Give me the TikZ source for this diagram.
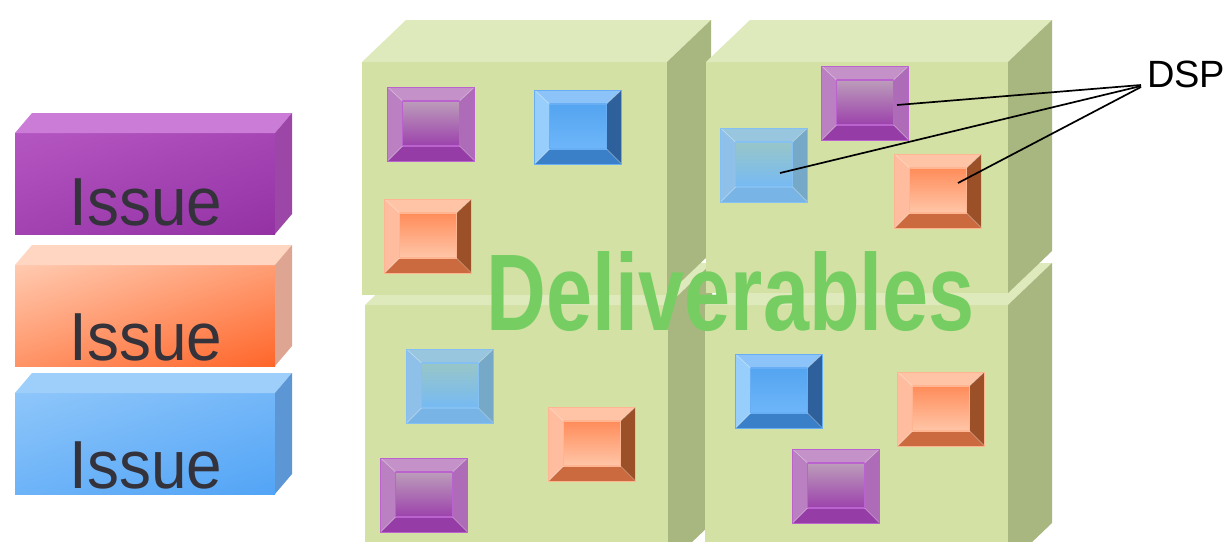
\documentclass[tikz,border=0pt]{standalone}
\usepackage{fontspec}
\setmainfont{Liberation Sans}
\usetikzlibrary{calc,shadings}

% cube faces and text
\definecolor{cubefront}{RGB}{211,225,165}
\definecolor{cubetop}{RGB}{222,233,188}
\definecolor{cubeside}{RGB}{168,183,128}
\definecolor{deliv}{RGB}{118,206,98}
\definecolor{issuetext}{RGB}{52,50,58}
% issue blocks
\definecolor{pF}{RGB}{180,86,194}
\definecolor{pG}{RGB}{148,50,164}
\definecolor{pTop}{RGB}{202,124,214}
\definecolor{pSide}{RGB}{156,70,168}
\definecolor{oF}{RGB}{255,202,176}
\definecolor{oG}{RGB}{255,102,42}
\definecolor{oTop}{RGB}{255,214,194}
\definecolor{oSide}{RGB}{222,166,146}
\definecolor{bF}{RGB}{142,198,250}
\definecolor{bG}{RGB}{82,164,246}
\definecolor{bTop}{RGB}{158,206,250}
\definecolor{bSide}{RGB}{92,150,212}
% bevelled squares
\definecolor{qpT}{RGB}{196,146,200}
\definecolor{qpL}{RGB}{186,128,194}
\definecolor{qpR}{RGB}{174,108,184}
\definecolor{qpB}{RGB}{150,60,166}
\definecolor{qpI}{RGB}{188,156,186}
\definecolor{qpJ}{RGB}{156,66,172}
\definecolor{qpE}{RGB}{186,98,206}
\definecolor{qbT}{RGB}{140,196,250}
\definecolor{qbL}{RGB}{152,206,252}
\definecolor{qbR}{RGB}{46,96,156}
\definecolor{qbB}{RGB}{58,128,200}
\definecolor{qbI}{RGB}{84,164,240}
\definecolor{qbJ}{RGB}{110,182,250}
\definecolor{qbE}{RGB}{104,174,244}
\definecolor{qoT}{RGB}{255,196,166}
\definecolor{qoL}{RGB}{255,188,158}
\definecolor{qoR}{RGB}{156,80,40}
\definecolor{qoB}{RGB}{202,106,62}
\definecolor{qoI}{RGB}{255,140,90}
\definecolor{qoJ}{RGB}{255,198,168}
\definecolor{qoE}{RGB}{255,180,146}
\definecolor{qfT}{RGB}{152,198,222}
\definecolor{qfL}{RGB}{142,192,234}
\definecolor{qfR}{RGB}{118,168,200}
\definecolor{qfB}{RGB}{120,180,230}
\definecolor{qfI}{RGB}{152,198,200}
\definecolor{qfJ}{RGB}{118,186,244}
\definecolor{qfE}{RGB}{132,192,242}

% facets of one bevelled square, #1 = colour prefix
\newcommand\bevel[1]{%
  \path (path picture bounding box.north west) coordinate (bNW)
        (path picture bounding box.north east) coordinate (bNE)
        (path picture bounding box.south west) coordinate (bSW)
        (path picture bounding box.south east) coordinate (bSE)
        ([shift={(15pt,-14pt)}]bNW) coordinate (iNW)
        ([shift={(-15pt,-14pt)}]bNE) coordinate (iNE)
        ([shift={(15pt,15pt)}]bSW) coordinate (iSW)
        ([shift={(-15pt,15pt)}]bSE) coordinate (iSE);
  \fill[#1T] (bNW) -- (bNE) -- (iNE) -- (iNW) -- cycle;
  \fill[#1B] (bSW) -- (bSE) -- (iSE) -- (iSW) -- cycle;
  \fill[#1L] (bNW) -- (bSW) -- (iSW) -- (iNW) -- cycle;
  \fill[#1R] (bNE) -- (bSE) -- (iSE) -- (iNE) -- cycle;
  \shade[top color=#1I, bottom color=#1J] (iNW) rectangle (iSE);
  \draw[#1E, line width=1.2pt] (iNW) rectangle (iSE);
  \draw[white, opacity=.35, line width=.7pt]
        (bNW) -- (iNW) (bNE) -- (iNE) (bSW) -- (iSW) (bSE) -- (iSE);
}

% one green cube: front top-left corner, width, height
\newcommand\cube[4]{%
  \fill[cubefront] (#1,#2) rectangle ++(#3,#4);
  \fill[cubetop] (#1,#2) -- ++(44,-42) -- ++(#3,0) -- ++(-44,42) -- cycle;
  \fill[cubeside] (#1+#3,#2) -- ++(44,-42) -- ++(0,#4) -- ++(-44,42) -- cycle;
}

% one issue block: front top y, colour prefix
\newcommand\block[2]{%
  \shade[upper left=#2F, upper right=#2F!55!#2G, lower left=#2F!45!#2G, lower right=#2G]
        (15,#1) rectangle (275,#1+101);
  \fill[#2Top] (15,#1) -- ++(17,-20) -- ++(260,0) -- ++(-17,20) -- cycle;
  \fill[#2Side] (275,#1) -- ++(17,-20) -- ++(0,101) -- ++(-17,20) -- cycle;
}

\tikzset{
    sq/.style =     {rectangle,
                    draw=#1E,
                    line width=.8pt,
                    minimum width=87pt,
                    minimum height=74pt,
                    inner sep=0pt,
                    path picture={\bevel{#1}}},
    issue/.style =  {anchor=base,
                    inner sep=0pt,
                    text=issuetext,
                    font=\fontsize{68}{68}\selectfont},
    dsp/.style =    {anchor=base west,
                    inner sep=0pt,
                    text=black,
                    font=\fontsize{38}{38}\selectfont},
    dspline/.style = {black,
                    line width=1.7pt},
}

\begin{document}
\begin{tikzpicture}[x=1pt,y=-1pt]
                    \useasboundingbox (0,0) rectangle (1231,541);
                    \fill[white] (0,0) rectangle (1231,541);
                    \clip (0,0) rectangle (1231,541);

                    % issue blocks
                    \block{133}{p}
                    \block{265}{o}
                    \block{393}{b}
                    \node[issue] (iss1) at (146,225) {\scalebox{0.94}[1]{Issue}};
                    \node[issue] (iss2) at (146,360) {\scalebox{0.94}[1]{Issue}};
                    \node[issue] (iss3) at (146,488) {\scalebox{0.94}[1]{Issue}};

                    % cubes, back to front
                    \cube{365}{305}{303}{260}
                    \cube{705}{305}{303}{260}
                    \cube{362}{62}{305}{233}
                    \cube{706}{62}{302}{231}

                    % squares
                    \node[sq=qp] (tl-p) at (431,124) {};
                    \node[sq=qb] (tl-b) at (578,127) {};
                    \node[sq=qo] (tl-o) at (428,236) {};
                    \node[sq=qp] (tr-p) at (865,103) {};
                    \node[sq=qf] (tr-b) at (764,165) {};
                    \node[sq=qo] (tr-o) at (938,191) {};
                    \node[sq=qf] (bl-b) at (450,386) {};
                    \node[sq=qo] (bl-o) at (592,444) {};
                    \node[sq=qp] (bl-p) at (424,495) {};
                    \node[sq=qb] (br-b) at (779,391) {};
                    \node[sq=qo] (br-o) at (941,409) {};
                    \node[sq=qp] (br-p) at (836,486) {};

                    \node[anchor=base, inner sep=0pt, text=deliv,
                          font=\fontsize{109}{109}\selectfont\bfseries] (deliv) at (731,330)
                          {\scalebox{0.76}[1]{Deliverables}};

                    % labels
                    \node[dsp] (dsp) at (1147,87) {DSP};
                    \path [dspline] ([xshift=-6pt,yshift=2pt]dsp.base west) edge ([xshift=32pt,yshift=-2pt]tr-p.center)
                                    ([xshift=-6pt,yshift=1pt]dsp.base west) edge ([xshift=16pt,yshift=-8pt]tr-b.center)
                                    ([xshift=-6pt]dsp.base west) edge ([xshift=20pt,yshift=8pt]tr-o.center);
\end{tikzpicture}
\end{document}
